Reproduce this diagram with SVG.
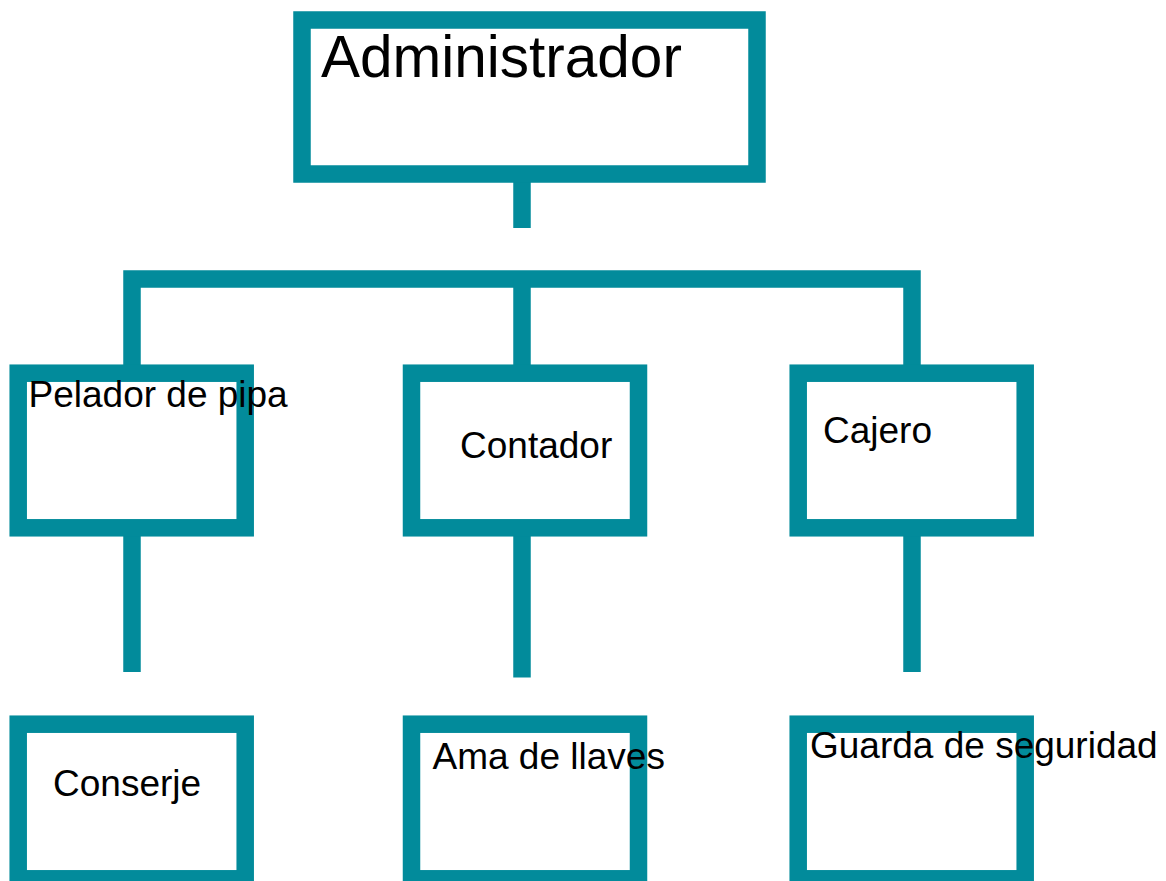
<svg xmlns="http://www.w3.org/2000/svg" width="1166" height="881" viewBox="0 0 1166 881">
<style>
.box{fill:#ffffff;stroke:#028B9B;stroke-width:17.5}
.con{fill:none;stroke:#028B9B;stroke-width:17.5;stroke-linejoin:miter;stroke-linecap:butt}
.lbl{font-family:"Liberation Sans",Arial,sans-serif;font-size:37px;fill:#000000}
.big{font-size:58.5px}
</style>
<rect width="1166" height="881" fill="#ffffff"/>
<g id="connectors">
<line class="con" x1="522" y1="182" x2="522" y2="228"/>
<path class="con" d="M132,365 V279 H912 V365"/>
<line class="con" x1="522" y1="279" x2="522" y2="365"/>
<line class="con" x1="132" y1="536" x2="132" y2="672"/>
<line class="con" x1="522" y1="536" x2="522" y2="677.5"/>
<line class="con" x1="912" y1="536" x2="912" y2="672"/>
</g>
<g id="administrador">
<rect class="box" x="302" y="20" width="455" height="154"/>
<text class="lbl big" x="321" y="77">Administrador</text>
</g>
<g id="pelador">
<rect class="box" x="18.2" y="373.2" width="227" height="154.6"/>
<text class="lbl" x="28.5" y="406.5">Pelador de pipa</text>
</g>
<g id="contador">
<rect class="box" x="411.5" y="373.2" width="227" height="154.6"/>
<text class="lbl" x="460" y="458">Contador</text>
</g>
<g id="cajero">
<rect class="box" x="798.2" y="373.2" width="227" height="154.6"/>
<text class="lbl" x="823" y="443">Cajero</text>
</g>
<g id="conserje">
<rect class="box" x="18.2" y="724.2" width="227" height="154.6"/>
<text class="lbl" x="53" y="796">Conserje</text>
</g>
<g id="ama">
<rect class="box" x="411.5" y="724.2" width="227" height="154.6"/>
<text class="lbl" x="432.5" y="769">Ama de llaves</text>
</g>
<g id="guarda">
<rect class="box" x="798.2" y="724.2" width="227" height="154.6"/>
<text class="lbl" x="810" y="758">Guarda de seguridad</text>
</g>
</svg>
